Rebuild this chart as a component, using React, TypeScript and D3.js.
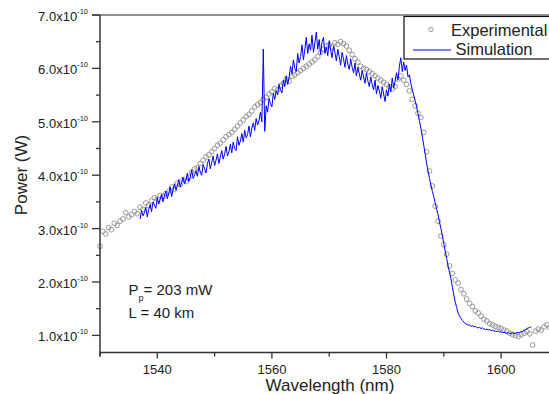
import React from 'react';
import * as d3 from 'd3';

const W = 549;
const H = 394;
const FONT = '"Liberation Sans", Arial, Helvetica, sans-serif';

// Experimental spectrum: 0.5 nm steps from 1530 nm, power in units of 1e-10 W
const expStart = 1530;
const expStep = 0.5;
const expPower = [
  2.67, 2.95, 2.90, 3.02, 2.98, 3.10, 3.06, 3.14,
  3.18, 3.30, 3.22, 3.26, 3.32, 3.28, 3.40, 3.36,
  3.48, 3.44, 3.52, 3.58, 3.55, 3.62, 3.60, 3.66,
  3.70, 3.78, 3.74, 3.85, 3.82, 3.92, 3.88, 3.96,
  4.06, 4.12, 4.14, 4.22, 4.28, 4.34, 4.38, 4.44,
  4.50, 4.56, 4.60, 4.66, 4.72, 4.76, 4.80, 4.86,
  4.92, 4.98, 5.04, 5.10, 5.14, 5.20, 5.28, 5.32,
  5.36, 5.42, 5.46, 5.52, 5.56, 5.62, 5.60, 5.68,
  5.72, 5.80, 5.76, 5.85, 5.88, 5.92, 5.96, 6.00,
  6.04, 6.08, 6.12, 6.16, 6.22, 6.30, 6.36, 6.42,
  6.44, 6.40, 6.48, 6.45, 6.50, 6.46, 6.42, 6.34,
  6.26, 6.18, 6.12, 6.04, 6.00, 5.98, 5.94, 5.90,
  5.86, 5.82, 5.78, 5.74, 5.70, 5.66, 5.62, 5.66,
  5.80, 5.86, 5.78, 5.70, 5.58, 5.42, 5.30, 5.16,
  5.08, 4.80, 4.44, 4.08, 3.80, 3.42, 3.14, 2.86,
  2.70, 2.52, 2.30, 2.16, 2.04, 1.98, 1.86, 1.78,
  1.68, 1.60, 1.54, 1.46, 1.42, 1.36, 1.30, 1.27,
  1.22, 1.20, 1.17, 1.15, 1.13, 1.10, 1.08, 1.04,
  1.02, 1.00, 0.98, 1.01, 1.04, 1.07, 1.03, 0.82,
  1.08, 1.12, 1.10, 1.16, 1.20, 1.15, 1.22, 1.18,
];

// Simulation: 0.25 nm steps from 1537 nm, same units
const simStart = 1537;
const simStep = 0.25;
const simPower = [
  3.18, 3.34, 3.24, 3.30, 3.40, 3.22, 3.36, 3.45,
  3.32, 3.50, 3.44, 3.38, 3.58, 3.46, 3.54, 3.64,
  3.50, 3.62, 3.70, 3.56, 3.66, 3.78, 3.60, 3.72,
  3.84, 3.72, 3.80, 3.92, 3.78, 3.86, 3.96, 3.84,
  3.90, 4.04, 3.88, 3.96, 4.10, 3.94, 4.00, 4.08,
  3.98, 4.16, 4.06, 4.00, 4.20, 4.12, 4.04, 4.22,
  4.30, 4.12, 4.24, 4.36, 4.18, 4.28, 4.40, 4.22,
  4.34, 4.46, 4.30, 4.40, 4.54, 4.36, 4.44, 4.58,
  4.42, 4.62, 4.50, 4.46, 4.72, 4.56, 4.64, 4.78,
  4.62, 4.84, 4.70, 4.76, 4.92, 4.72, 4.88, 4.98,
  4.84, 5.06, 4.94, 5.02, 5.18, 5.00, 6.36, 4.82,
  5.30, 5.18, 5.44, 5.34, 5.28, 5.54, 5.42, 5.58,
  5.50, 5.70, 5.60, 5.54, 5.78, 5.66, 5.86, 5.70,
  5.82, 6.04, 5.90, 6.16, 6.00, 5.94, 6.28, 6.10,
  6.22, 6.44, 6.16, 6.36, 6.58, 6.28, 6.46, 6.34,
  6.62, 6.30, 6.48, 6.68, 6.36, 6.54, 6.26, 6.50,
  6.58, 6.28, 6.40, 6.24, 6.52, 6.34, 6.20, 6.42,
  6.30, 6.14, 6.36, 6.22, 6.06, 6.30, 6.18, 6.02,
  6.24, 6.08, 5.98, 6.18, 6.02, 5.92, 6.10, 5.86,
  6.02, 5.90, 5.78, 5.96, 5.84, 5.72, 5.92, 5.76,
  5.66, 5.84, 5.70, 5.60, 5.78, 5.52, 5.68, 5.58,
  5.44, 5.66, 5.52, 5.38, 5.60, 5.48, 5.70, 5.56,
  5.82, 5.64, 5.76, 5.92, 5.78, 6.04, 6.20, 5.94,
  6.12, 5.96, 6.06, 5.84, 5.88, 5.72, 5.60, 5.50,
  5.40, 5.28, 5.15, 5.02, 4.88, 4.72, 4.56, 4.40,
  4.22, 4.08, 3.94, 3.82, 3.70, 3.60, 3.48, 3.36,
  3.26, 3.12, 3.00, 2.86, 2.72, 2.58, 2.44, 2.30,
  2.18, 2.06, 1.90, 1.76, 1.62, 1.52, 1.42, 1.36,
  1.32, 1.28, 1.25, 1.22, 1.21, 1.19, 1.20, 1.17,
  1.18, 1.16, 1.17, 1.15, 1.14, 1.15, 1.13, 1.14,
  1.12, 1.11, 1.12, 1.10, 1.11, 1.09, 1.10, 1.08,
  1.08, 1.07, 1.08, 1.06, 1.07, 1.05, 1.06, 1.05,
  1.04, 1.05, 1.03, 1.04, 1.05, 1.03, 1.04, 1.05,
  1.06, 1.05, 1.08, 1.07, 1.10, 1.11, 1.13, 1.14,
  1.15, 1.16,
];

const xMajor = [1540, 1560, 1580, 1600];
const xMinor = [1530, 1550, 1570, 1590];
const yMajor = [1, 2, 3, 4, 5, 6, 7];
const yMinor = [1.5, 2.5, 3.5, 4.5, 5.5, 6.5];
const legendLabels = ['Experimental', 'Simulation'];

export default function App() {
  const x = d3.scaleLinear().domain([1530, 1610]).range([100, 558.4]);
  const y = d3.scaleLinear().domain([0.68, 7.0]).range([352.5, 15]);

  const expData: [number, number][] = expPower.map((v, i) => [expStart + i * expStep, v]);
  const simData: [number, number][] = simPower.map((v, i) => [simStart + i * simStep, v]);

  const line = d3.line<[number, number]>()
    .x(d => x(d[0]))
    .y(d => y(d[1]));

  const x0 = x.range()[0];
  const y0 = y.range()[0];
  const textColor = '#222';

  return (
    <svg width={W} height={H} style={{ position: 'absolute', left: 0, top: 0, background: '#fff' }} fontFamily={FONT}>
      {/* experimental points */}
      <g fill="none" stroke="#8f8f8f" strokeWidth={0.9}>
        {expData.map((d, i) => (
          <circle key={i} cx={x(d[0])} cy={y(d[1])} r={2.4} />
        ))}
      </g>

      {/* simulation */}
      <path d={line(simData) || ''} fill="none" stroke="#0000ff" strokeWidth={1} strokeLinejoin="round" />

      {/* frame */}
      <line x1={92} x2={W} y1={y(7)} y2={y(7)} stroke="#6e6e6e" strokeWidth={1.5} />
      <line x1={x0} x2={x0} y1={y(7)} y2={y0 + 4} stroke="#333" strokeWidth={1.5} />
      <line x1={x0} x2={W} y1={y0} y2={y0} stroke="#333" strokeWidth={1.5} />

      {/* y ticks */}
      {yMajor.map(v => (
        <g key={'ym' + v}>
          <line x1={x0 - 8} x2={x0} y1={y(v)} y2={y(v)} stroke="#333" strokeWidth={1.3} />
          <text x={88} y={y(v) + 6} textAnchor="end" fontSize={13} fill={textColor}>
            {v.toFixed(1) + 'x10'}
            <tspan fontSize={7.5} dy={-7}>-10</tspan>
          </text>
        </g>
      ))}
      {yMinor.map(v => (
        <line key={'yn' + v} x1={x0 - 4} x2={x0} y1={y(v)} y2={y(v)} stroke="#333" strokeWidth={1.3} />
      ))}

      {/* x ticks */}
      {xMajor.map(v => (
        <g key={'xm' + v}>
          <line x1={x(v)} x2={x(v)} y1={y0} y2={y0 + 6} stroke="#333" strokeWidth={1.3} />
          <text x={x(v)} y={374} textAnchor="middle" fontSize={13} fill={textColor}>{v}</text>
        </g>
      ))}
      {xMinor.map(v => (
        <line key={'xn' + v} x1={x(v)} x2={x(v)} y1={y0} y2={y0 + 4} stroke="#333" strokeWidth={1.3} />
      ))}

      {/* axis titles */}
      <text x={330} y={391} textAnchor="middle" fontSize={17} fill={textColor}>Wavelength (nm)</text>
      <text transform="translate(27,175) rotate(-90)" textAnchor="middle" fontSize={17} fill={textColor}>Power (W)</text>

      {/* annotation */}
      <text x={128.5} y={295} fontSize={15} fill={textColor}>
        P<tspan fontSize={9} dy={6}>p</tspan><tspan dy={-6}>= 203 mW</tspan>
      </text>
      <text x={128.5} y={318} fontSize={15} fill={textColor}>L = 40 km</text>

      {/* legend */}
      <rect x={404} y={16.5} width={170} height={42.5} fill="#fff" stroke="#111" strokeWidth={1.2} />
      <circle cx={431} cy={29.5} r={2.2} fill="none" stroke="#8f8f8f" strokeWidth={0.9} />
      <text x={451} y={36} fontSize={16.5} fill={textColor}>{legendLabels[0]}</text>
      <line x1={413} x2={451} y1={50} y2={50} stroke="#0000ff" strokeWidth={1.2} />
      <text x={455.5} y={55} fontSize={16.5} fill={textColor}>{legendLabels[1]}</text>
    </svg>
  );
}
